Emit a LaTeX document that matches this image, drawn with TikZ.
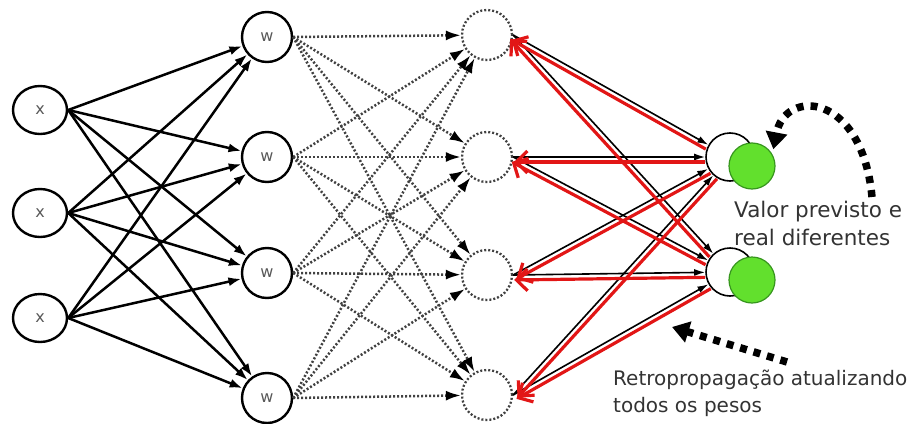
\documentclass[tikz,border=0pt]{standalone}
\usepackage{fontspec}
\setmainfont{DejaVu Sans}
\usetikzlibrary{arrows.meta,calc,shapes.geometric}
\definecolor{backred}{RGB}{226,22,22}
\definecolor{nodegreen}{RGB}{98,224,45}
\definecolor{greenedge}{RGB}{55,150,30}
\definecolor{dotgray}{RGB}{65,65,65}
\begin{document}
\begin{tikzpicture}[x=1pt,y=-1pt,
  inode/.style={ellipse, draw, line width=2.4pt, minimum width=54pt, minimum height=48pt,
    inner sep=0pt, text=black!65, font=\fontsize{16}{16}\selectfont},
  wnode/.style={circle, draw, line width=2.4pt, minimum size=50pt, inner sep=0pt,
    text=black!65, font=\fontsize{16}{16}\selectfont},
  dnode/.style={circle, draw=dotgray, line width=2.3pt, dash pattern=on 2pt off 2pt,
    minimum size=50pt, inner sep=0pt},
  onode/.style={circle, draw, line width=1.6pt, fill=white, minimum size=48pt, inner sep=0pt},
  gnode/.style={circle, draw=greenedge, line width=1.2pt, fill=nodegreen, minimum size=46pt, inner sep=0pt},
  fwd/.style={line width=2.5pt, -{Latex[length=13pt,width=9pt]}},
  dotfwd/.style={draw=dotgray, line width=2.5pt, dash pattern=on 2pt off 2pt,
    -{Latex[length=15pt,width=10pt,color=black]}},
  outfwd/.style={line width=1.6pt, -{Latex[length=11pt,width=7pt]}},
  back/.style={draw=backred, line width=3.2pt, shorten >=1pt,
    -{Straight Barb[length=11pt,width=22pt]}},
  bigdash/.style={line width=7.5pt, dash pattern=on 7pt off 7pt,
    -{Triangle[length=17pt,width=21pt]}},
  note/.style={anchor=base west, inner sep=0pt, text=black!80},
  notea/.style={note, font=\fontsize{21.5}{27}\selectfont},
  noteb/.style={note, font=\fontsize{20}{27}\selectfont}
]
\useasboundingbox (0,0) rectangle (915,423);

% input layer
\node[inode] (in1) at (40,110) {x};
\node[inode] (in2) at (40,213) {x};
\node[inode] (in3) at (40,318) {x};

% first hidden layer
\node[wnode] (w1) at (267,37) {w};
\node[wnode] (w2) at (267,157) {w};
\node[wnode] (w3) at (267,273) {w};
\node[wnode] (w4) at (267,398) {w};

% second hidden layer
\node[dnode] (d1) at (487,35) {};
\node[dnode] (d2) at (487,157) {};
\node[dnode] (d3) at (487,275) {};
\node[dnode] (d4) at (487,395) {};

% output layer with the expected values behind
\node[onode] (o1) at (730,157) {};
\node[gnode] (g1) at (752,166) {};
\node[onode] (o2) at (730,272) {};
\node[gnode] (g2) at (752,280) {};

% forward connections
\foreach \i in {1,2,3}{\foreach \j in {1,...,4}{\draw[fwd] (in\i.east) -- (w\j);}}
\foreach \i in {1,...,4}{\foreach \j in {1,...,4}{\draw[dotfwd] (w\i.east) -- (d\j);}}
\foreach \i in {1,...,4}{\foreach \j in {1,2}{\draw[outfwd] (d\i.east) -- (o\j);}}

% backpropagated error
\foreach \i in {1,...,4}{\foreach \j in {1,2}{
  \coordinate (s) at ($(o\j.center)!25pt!(d\i.east)$);
  \draw[back] ($(s)!5pt!90:(d\i.east)$) -- ($(d\i.east)!5pt!-90:(s)$);
}}

% annotations
\coordinate (v1) at (872,197);
\draw[bigdash, shorten >=5pt] (v1) .. controls (862,92) and (785,88) .. (g1.30);
\coordinate (v2) at (787,362);
\coordinate (v2tip) at (672,327);
\draw[bigdash] (v2) -- (v2tip);

\node[notea] (t1) at (734,217) {Valor previsto e};
\node[notea] (t2) at (734,245) {real diferentes};
\node[noteb] (t3) at (613,385) {Retropropagação atualizando};
\node[noteb] (t4) at (613,412) {todos os pesos};
\end{tikzpicture}
\end{document}
